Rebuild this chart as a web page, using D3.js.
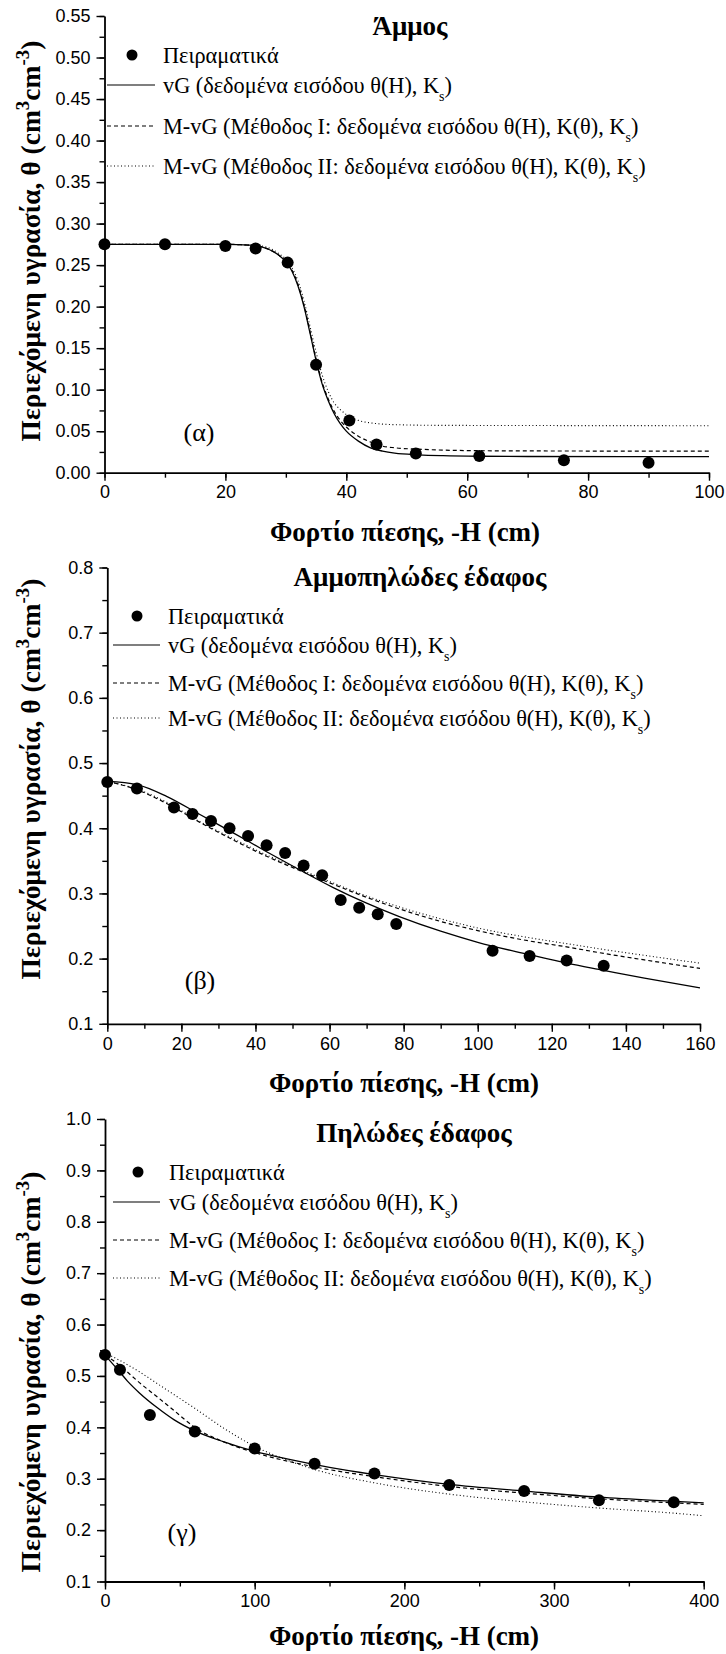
<!DOCTYPE html>
<html><head><meta charset="utf-8">
<script src="https://cdn.jsdelivr.net/npm/d3@7"></script>
<style>
html,body{margin:0;padding:0;background:#fff;}
svg{display:block;}
.tick text{font-family:"Liberation Sans",Arial,sans-serif;font-size:18px;fill:#000;}
.serif{font-family:"Liberation Serif","Times New Roman",serif;}
</style>
</head><body>
<svg id="chart" width="726" height="1654"></svg>
<script>
// ---------- DATA ----------
// Panel (α) Άμμος
const sandObs = [[0,0.275],[10,0.275],[20,0.273],[25,0.270],[30.3,0.253],[35,0.130],[40.5,0.063],[45,0.034],[51.5,0.023],[62,0.020],[76,0.015],[90,0.012]];
const sandVG = [[0,0.275],[20,0.275],[24,0.274],[26,0.272],[28,0.266],[29,0.261],[30,0.254],[31,0.243],[32,0.225],[33,0.200],[34,0.168],[35,0.135],[36,0.107],[37,0.087],[38,0.071],[39,0.059],[40,0.050],[42,0.038],[44,0.030],[46,0.026],[48,0.0235],[52,0.0215],[56,0.0205],[62,0.0198],[70,0.0195],[100,0.0193]];
const sandM1 = [[0,0.275],[20,0.275],[24,0.274],[26,0.272],[28,0.266],[29,0.261],[30,0.254],[31,0.244],[32,0.227],[33,0.202],[34,0.170],[35,0.137],[36,0.109],[37,0.089],[38,0.074],[39,0.063],[40,0.055],[42,0.044],[44,0.037],[46,0.032],[48,0.030],[52,0.0283],[56,0.0272],[62,0.0265],[70,0.0262],[100,0.026]];
const sandM2 = [[0,0.275],[20,0.275],[24,0.274],[26,0.273],[28,0.268],[29,0.263],[30,0.257],[31,0.247],[32,0.231],[33,0.207],[34,0.176],[35,0.145],[36,0.118],[37,0.098],[38,0.084],[39,0.076],[40,0.070],[42,0.063],[44,0.060],[46,0.0585],[50,0.0575],[56,0.057],[100,0.0566]];
// Panel (β) Αμμοπηλώδες έδαφος
const loamObs = [[0,0.471],[8,0.461],[18,0.432],[23,0.422],[28,0.411],[33,0.400],[38,0.388],[43,0.374],[48,0.362],[53,0.343],[58,0.328],[63,0.290],[68,0.278],[73,0.268],[78,0.253],[104,0.212],[114,0.204],[124,0.197],[134,0.189]];
const loamVG = [[0,0.472],[8,0.467],[16,0.449],[25,0.421],[34,0.393],[43,0.364],[52,0.336],[61,0.309],[70,0.285],[79,0.264],[90,0.242],[100,0.225],[114,0.206],[124,0.193],[134,0.182],[145,0.170],[160,0.155]];
const loamM1 = [[0,0.472],[8,0.459],[16,0.438],[25,0.409],[34,0.382],[43,0.357],[52,0.335],[61,0.314],[70,0.294],[79,0.276],[90,0.257],[100,0.243],[114,0.227],[124,0.218],[134,0.208],[145,0.198],[160,0.185]];
const loamM2 = [[0,0.472],[8,0.460],[16,0.440],[25,0.410],[34,0.384],[43,0.359],[52,0.337],[61,0.316],[70,0.296],[79,0.279],[90,0.261],[100,0.247],[114,0.232],[124,0.223],[134,0.214],[145,0.205],[160,0.193]];
// Panel (γ) Πηλώδες έδαφος
const clayObs = [[0,0.541],[10,0.512],[30,0.424],[60,0.392],[100,0.359],[140,0.329],[180,0.310],[230,0.288],[280,0.276],[330,0.258],[380,0.254]];
const clayVG = [[0,0.540],[5,0.524],[10,0.507],[15,0.490],[23,0.467],[35,0.438],[46,0.415],[60,0.393],[79,0.372],[100,0.353],[124,0.337],[150,0.322],[180,0.308],[230,0.289],[280,0.276],[330,0.264],[380,0.256],[400,0.253]];
const clayM1 = [[0,0.540],[5,0.531],[12,0.515],[23,0.487],[35,0.459],[46,0.433],[60,0.400],[80,0.371],[100,0.351],[140,0.323],[180,0.304],[230,0.285],[280,0.272],[330,0.261],[380,0.253],[400,0.250]];
const clayM2 = [[0,0.545],[10,0.530],[23,0.508],[35,0.485],[48,0.460],[60,0.437],[80,0.397],[100,0.363],[120,0.338],[140,0.318],[180,0.292],[230,0.270],[280,0.255],[330,0.243],[380,0.233],[400,0.228]];

const titles = ["Άμμος","Αμμοπηλώδες έδαφος","Πηλώδες έδαφος"];
const tags = ["(α)","(β)","(γ)"];
const xDomains = [[0,100],[0,160],[0,400]];
const yDomains = [[0,0.55],[0.1,0.8],[0.1,1.0]];
const xMajor = [d3.range(0,101,20), d3.range(0,161,20), d3.range(0,401,100)];
const xMinor = [d3.range(0,101,10), d3.range(0,161,10), d3.range(0,401,50)];
const yMajor = [d3.range(0,0.5501,0.05), d3.range(0.1,0.8001,0.1), d3.range(0.1,1.0001,0.1)];
const yMinor = [d3.range(0,0.5501,0.025), d3.range(0.1,0.8001,0.05), d3.range(0.1,1.0001,0.05)];
const yFmt = [".2f",".1f",".1f"];
const legendLabels = ["Πειραματικά","vG (δεδομένα εισόδου θ(H), K","M-vG (Μέθοδος I: δεδομένα εισόδου θ(H), K(θ), K","M-vG (Μέθοδος II: δεδομένα εισόδου θ(H), K(θ), K"];
const xTitle = "Φορτίο πίεσης, -H (cm)";
const yTitleMain = "Περιεχόμενη υγρασία, θ (cm";

const series = [
  {obs:sandObs, vg:sandVG, m1:sandM1, m2:sandM2},
  {obs:loamObs, vg:loamVG, m1:loamM1, m2:loamM2},
  {obs:clayObs, vg:clayVG, m1:clayM1, m2:clayM2}
];

// ---------- LAYOUT ----------
const layout = [
  {x0:104.5, x1:709, yT:16, yB:472.7, leg:[55,85,126,166], legX:[107,155,132,163], title:[410,35], tag:[199,441], yTitleC:241, xtOff:68, xtX:405},
  {x0:107.3, x1:700, yT:567.5, yB:1023.8, leg:[616,645,683,718], legX:[113,160,137,168], title:[420,586], tag:[200,989], yTitleC:779, xtOff:68, xtX:404},
  {x0:105, x1:703.7, yT:1119, yB:1581.5, leg:[1172,1202,1240,1278], legX:[113,160,138,169], title:[414,1142], tag:[182,1541], yTitleC:1372, xtOff:63, xtX:404}
];

const svg = d3.select("#chart");
svg.append("rect").attr("width",726).attr("height",1654).attr("fill","#fff");

const styles = {
  vg:{dash:null, w:1.3},
  m1:{dash:"4,3", w:1.2},
  m2:{dash:"1,2.5", w:1.1}
};

layout.forEach((L,i)=>{
  const g = svg.append("g");
  const x = d3.scaleLinear().domain(xDomains[i]).range([L.x0, L.x1]);
  const y = d3.scaleLinear().domain(yDomains[i]).range([L.yB, L.yT]);

  // minor ticks
  g.append("g").attr("transform",`translate(0,${L.yB})`)
    .call(d3.axisBottom(x).tickValues(xMinor[i]).tickSize(5).tickSizeOuter(0).tickFormat(""))
    .call(s=>s.select(".domain").remove());
  g.append("g").attr("transform",`translate(${L.x0},0)`)
    .call(d3.axisLeft(y).tickValues(yMinor[i]).tickSize(5).tickSizeOuter(0).tickFormat(""))
    .call(s=>s.select(".domain").remove());
  // major
  g.append("g").attr("transform",`translate(0,${L.yB})`)
    .call(d3.axisBottom(x).tickValues(xMajor[i]).tickSize(8).tickSizeOuter(0).tickPadding(5).tickFormat(d3.format("d")));
  g.append("g").attr("transform",`translate(${L.x0},0)`)
    .call(d3.axisLeft(y).tickValues(yMajor[i]).tickSize(8).tickSizeOuter(0).tickPadding(6).tickFormat(d3.format(yFmt[i])));
  g.selectAll(".domain").attr("stroke","#000").attr("stroke-width",1.8);
  g.selectAll(".tick line").attr("stroke","#000").attr("stroke-width",1.4);

  // curves
  const line = d3.line().x(d=>x(d[0])).y(d=>y(d[1])).curve(d3.curveMonotoneX);
  ["m2","m1","vg"].forEach(k=>{
    g.append("path").datum(series[i][k]).attr("d",line)
      .attr("fill","none").attr("stroke","#000")
      .attr("stroke-width",styles[k].w)
      .attr("stroke-dasharray",styles[k].dash);
  });
  // points
  g.selectAll("circle.obs").data(series[i].obs).join("circle").attr("class","obs")
    .attr("cx",d=>x(d[0])).attr("cy",d=>y(d[1])).attr("r",6).attr("fill","#000");

  // title
  g.append("text").attr("class","serif").attr("x",L.title[0]).attr("y",L.title[1])
    .attr("text-anchor","middle").attr("font-weight","bold").attr("font-size",27).text(titles[i]);
  // tag
  g.append("text").attr("class","serif").attr("x",L.tag[0]).attr("y",L.tag[1])
    .attr("text-anchor","middle").attr("font-size",26).text(tags[i]);
  // x title
  g.append("text").attr("class","serif").attr("x",L.xtX).attr("y",L.yB+L.xtOff)
    .attr("text-anchor","middle").attr("font-weight","bold").attr("font-size",27).text(xTitle);
  // y title
  const yt = g.append("text").attr("class","serif")
    .attr("transform",`translate(40,${L.yTitleC}) rotate(-90)`)
    .attr("text-anchor","middle").attr("font-weight","bold").attr("font-size",27.5);
  yt.append("tspan").text(yTitleMain);
  yt.append("tspan").attr("dy",-11).attr("font-size",19).text("3");
  yt.append("tspan").attr("dy",11).text("cm");
  yt.append("tspan").attr("dy",-11).attr("font-size",19).text("-3");
  yt.append("tspan").attr("dy",11).text(")");

  // legend
  const lg = g.append("g");
  lg.append("circle").attr("cx",L.legX[2]).attr("cy",L.leg[0]).attr("r",5.5).attr("fill","#000");
  ["vg","m1","m2"].forEach((k,j)=>{
    lg.append("line").attr("x1",L.legX[0]).attr("x2",L.legX[1]).attr("y1",L.leg[j+1]).attr("y2",L.leg[j+1])
      .attr("stroke",k==="vg"?"#555":"#000").attr("stroke-width",styles[k].w).attr("stroke-dasharray",styles[k].dash);
  });
  legendLabels.forEach((t,j)=>{
    const tx = lg.append("text").attr("class","serif").attr("x",L.legX[3]).attr("y",L.leg[j]).attr("dy","0.35em").attr("font-size",22.3);
    tx.append("tspan").text(t);
    if(j>0){
      tx.append("tspan").attr("dy",8).attr("font-size",14).text("s");
      tx.append("tspan").attr("dy",-8).text(")");
    }
  });
});
</script>
</body></html>
